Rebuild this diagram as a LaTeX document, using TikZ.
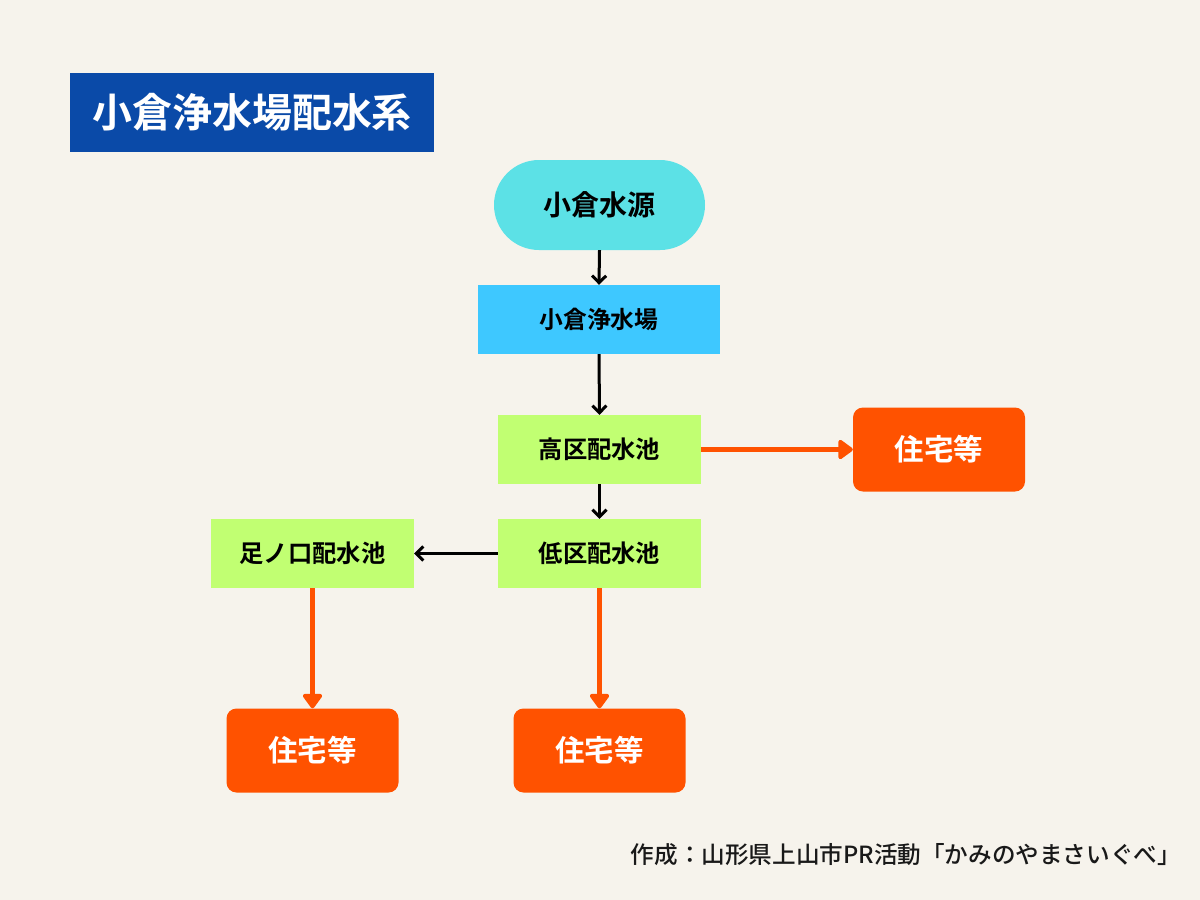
\documentclass[tikz,border=0pt]{standalone}
\usepackage{fontspec}
\setmainfont{Noto Sans CJK JP}[BoldFont={* Bold}]
\newfontfamily\jpbold{Noto Sans CJK JP Bold}
\newfontfamily\jpmed{Noto Sans CJK JP Medium}
\usetikzlibrary{arrows.meta}
\definecolor{bg}{HTML}{F6F3EC}
\definecolor{titleblue}{HTML}{0A4AA8}
\definecolor{cyanbox}{HTML}{5CE1E6}
\definecolor{skybox}{HTML}{3EC8FF}
\definecolor{limebox}{HTML}{C1FF72}
\definecolor{orangebox}{HTML}{FF5200}
\tikzset{
  greenbox/.style={fill=limebox, minimum width=203pt, minimum height=69pt, inner sep=0pt, font=\jpbold\fontsize{24.3}{28}\selectfont},
  housebox/.style={fill=orangebox, rounded corners=10pt, minimum width=172pt, minimum height=84pt, inner sep=0pt, text=white, font=\jpbold\fontsize{29.5}{32}\selectfont},
  blackarrow/.style={draw=black, line width=3pt, -{Straight Barb[length=7pt,width=14pt,line width=3pt]}},
  orangearrow/.style={draw=orangebox, line width=5pt, -{Triangle[length=16pt,width=22pt,round]}}
}
\begin{document}
\begin{tikzpicture}[x=1pt,y=-1pt]
\fill[bg] (0,0) rectangle (1200,900);
\useasboundingbox (0,0) rectangle (1200,900);
% title
\node[fill=titleblue, minimum width=364pt, minimum height=79pt, inner sep=0pt, text=white, font=\jpbold\fontsize{40}{44}\selectfont] (title) at (252,112.5) {小倉浄水場配水系};
% nodes
\node[fill=cyanbox, rounded corners=45pt, minimum width=211pt, minimum height=90pt, inner sep=0pt, font=\jpbold\fontsize{28}{32}\selectfont] (src) at (599.5,205) {小倉水源};
\node[fill=skybox, minimum width=242pt, minimum height=69pt, inner sep=0pt, font=\jpbold\fontsize{23.8}{28}\selectfont] (plant) at (599,319.5) {小倉浄水場};
\node[greenbox] (high) at (599.5,449.5) {高区配水池};
\node[greenbox] (low) at (599.5,553.5) {低区配水池};
\node[greenbox] (ashi) at (312.5,553.5) {足ノ口配水池};
\node[housebox] (h1) at (939,449.5) {住宅等};
\node[housebox] (h2) at (312.5,750.5) {住宅等};
\node[housebox] (h3) at (599.5,750.5) {住宅等};
% connectors
\draw[blackarrow] (src.south) -- (plant.north);
\draw[blackarrow] (plant.south) -- (high.north);
\draw[blackarrow] (high.south) -- (low.north);
\draw[blackarrow] (low.west) -- (ashi.east);
\draw[orangearrow] (high.east) -- (h1.west);
\draw[orangearrow] (ashi.south) -- (h2.north);
\draw[orangearrow] (low.south) -- (h3.north);
% footer
\node[anchor=east, inner sep=0pt, font=\jpmed\fontsize{23.6}{26}\selectfont, text=black!90] (credit) at (1181,855) {作成：山形県上山市PR活動「かみのやまさいぐべ」};
\end{tikzpicture}
\end{document}
